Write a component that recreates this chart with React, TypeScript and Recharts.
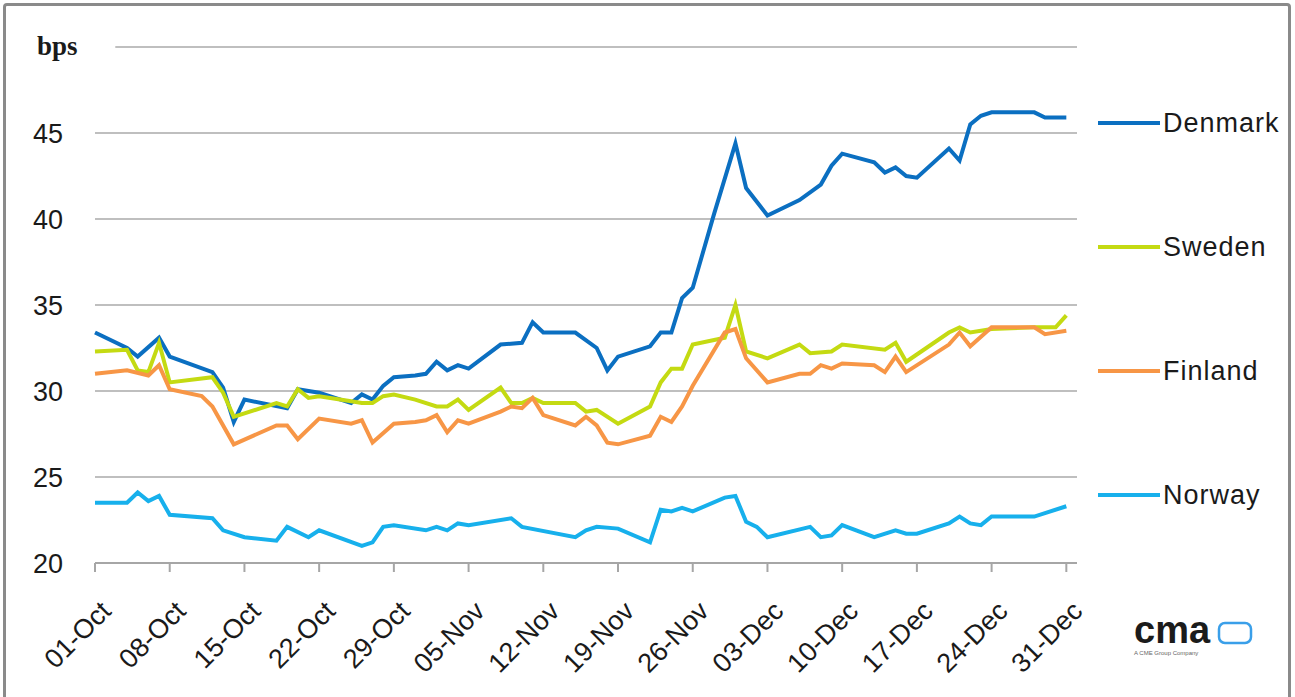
import React from 'react';
import { LineChart, Line, XAxis, YAxis, CartesianGrid, ReferenceLine } from 'recharts';

// day index counted from 01-Oct, value in bps
const DENMARK: [number, number][] = [
  [0, 33.4], [3, 32.5], [4, 32.0], [6, 33.1], [7, 32.0], [11, 31.1], [12, 30.2], [13, 28.2],
  [14, 29.5], [18, 29.0], [19, 30.1], [21, 29.9], [24, 29.3], [25, 29.8], [26, 29.5], [27, 30.3],
  [28, 30.8], [30, 30.9], [31, 31.0], [32, 31.7], [33, 31.2], [34, 31.5], [35, 31.3], [38, 32.7],
  [40, 32.8], [41, 34.0], [42, 33.4], [45, 33.4], [47, 32.5], [48, 31.2], [49, 32.0], [52, 32.6],
  [53, 33.4], [54, 33.4], [55, 35.4], [56, 36.0], [58, 40.3], [60, 44.4], [61, 41.8], [63, 40.2],
  [66, 41.1], [68, 42.0], [69, 43.1], [70, 43.8], [73, 43.3], [74, 42.7], [75, 43.0], [76, 42.5],
  [77, 42.4], [80, 44.1], [81, 43.4], [82, 45.5], [83, 46.0], [84, 46.2], [88, 46.2], [89, 45.9],
  [91, 45.9],
];

const SWEDEN: [number, number][] = [
  [0, 32.3], [3, 32.4], [4, 31.2], [5, 31.1], [6, 32.8], [7, 30.5], [11, 30.8], [12, 29.9],
  [13, 28.5], [17, 29.3], [18, 29.1], [19, 30.1], [20, 29.6], [21, 29.7], [24, 29.4], [25, 29.3],
  [26, 29.3], [27, 29.7], [28, 29.8], [30, 29.5], [32, 29.1], [33, 29.1], [34, 29.5], [35, 28.9],
  [38, 30.2], [39, 29.3], [40, 29.3], [41, 29.6], [42, 29.3], [45, 29.3], [46, 28.8], [47, 28.9],
  [49, 28.1], [52, 29.1], [53, 30.5], [54, 31.3], [55, 31.3], [56, 32.7], [59, 33.1], [60, 35.0],
  [61, 32.3], [63, 31.9], [66, 32.7], [67, 32.2], [69, 32.3], [70, 32.7], [74, 32.4], [75, 32.8],
  [76, 31.7], [80, 33.4], [81, 33.7], [82, 33.4], [84, 33.6], [88, 33.7], [90, 33.7], [91, 34.4],
];

const FINLAND: [number, number][] = [
  [0, 31.0], [3, 31.2], [5, 30.9], [6, 31.5], [7, 30.1], [10, 29.7], [11, 29.1], [13, 26.9],
  [17, 28.0], [18, 28.0], [19, 27.2], [21, 28.4], [24, 28.1], [25, 28.3], [26, 27.0], [28, 28.1],
  [30, 28.2], [31, 28.3], [32, 28.6], [33, 27.6], [34, 28.3], [35, 28.1], [38, 28.8], [39, 29.1],
  [40, 29.0], [41, 29.6], [42, 28.6], [45, 28.0], [46, 28.5], [47, 28.0], [48, 27.0], [49, 26.9],
  [52, 27.4], [53, 28.5], [54, 28.2], [55, 29.1], [56, 30.3], [59, 33.4], [60, 33.6], [61, 31.9],
  [63, 30.5], [66, 31.0], [67, 31.0], [68, 31.5], [69, 31.3], [70, 31.6], [73, 31.5], [74, 31.1],
  [75, 32.0], [76, 31.1], [80, 32.7], [81, 33.4], [82, 32.6], [84, 33.7], [88, 33.7], [89, 33.3],
  [91, 33.5],
];

const NORWAY: [number, number][] = [
  [0, 23.5], [3, 23.5], [4, 24.1], [5, 23.6], [6, 23.9], [7, 22.8], [11, 22.6], [12, 21.9],
  [14, 21.5], [17, 21.3], [18, 22.1], [20, 21.5], [21, 21.9], [25, 21.0], [26, 21.2], [27, 22.1],
  [28, 22.2], [31, 21.9], [32, 22.1], [33, 21.9], [34, 22.3], [35, 22.2], [39, 22.6], [40, 22.1],
  [45, 21.5], [46, 21.9], [47, 22.1], [49, 22.0], [52, 21.2], [53, 23.1], [54, 23.0], [55, 23.2],
  [56, 23.0], [59, 23.8], [60, 23.9], [61, 22.4], [62, 22.1], [63, 21.5], [67, 22.1], [68, 21.5],
  [69, 21.6], [70, 22.2], [73, 21.5], [75, 21.9], [76, 21.7], [77, 21.7], [80, 22.3], [81, 22.7],
  [82, 22.3], [83, 22.2], [84, 22.7], [88, 22.7], [89, 22.9], [91, 23.3],
];

const X_TICKS = [0, 7, 14, 21, 28, 35, 42, 49, 56, 63, 70, 77, 84, 91];
const X_LABELS = [
  '01-Oct', '08-Oct', '15-Oct', '22-Oct', '29-Oct', '05-Nov', '12-Nov',
  '19-Nov', '26-Nov', '03-Dec', '10-Dec', '17-Dec', '24-Dec', '31-Dec',
];
const Y_TICKS = [20, 25, 30, 35, 40, 45, 50];

const SERIES = [
  { name: 'Denmark', color: '#0b6fc1', values: DENMARK },
  { name: 'Sweden', color: '#c4da12', values: SWEDEN },
  { name: 'Finland', color: '#f79646', values: FINLAND },
  { name: 'Norway', color: '#17b0ec', values: NORWAY },
];

const FONT = "'Liberation Sans', Arial, sans-serif";
const TEXT = '#1a1a1a';

const toPoints = (pairs: [number, number][]) => pairs.map(([day, value]) => ({ day, value }));

const XTick = (props: any) => {
  const { x, y, payload } = props;
  const label = X_LABELS[X_TICKS.indexOf(payload.value)];
  const ax = x + 11;
  const ay = y + 30;
  return (
    <text
      x={ax}
      y={ay}
      dy="0.35em"
      textAnchor="end"
      transform={`rotate(-45, ${ax}, ${ay})`}
      fontFamily={FONT}
      fontSize={27}
      fill={TEXT}
    >
      {label}
    </text>
  );
};

const YTick = (props: any) => {
  const { x, y, payload } = props;
  if (payload.value === 50) {
    return (
      <text x={37} y={y} dy="0.3em" fontFamily="'Liberation Serif', 'Times New Roman', serif" fontWeight="bold" fontSize={27} fill={TEXT}>
        bps
      </text>
    );
  }
  return (
    <text x={x} y={y} dy="0.36em" textAnchor="end" fontFamily={FONT} fontSize={27} fill={TEXT}>
      {payload.value}
    </text>
  );
};

const CmaLogo = () => (
  <svg width={150} height={60} style={{ position: 'absolute', left: 1128, top: 610 }}>
    <text x={6} y={33} fontFamily={FONT} fontWeight="bold" fontSize={38} fill="#1b1b1b">
      cma
    </text>
    <rect x={91} y={13} width={32} height={20} rx={6} fill="none" stroke="#3a9fe9" strokeWidth={2.5} />
    <text x={6} y={45} fontFamily={FONT} fontSize={6} fill="#666">
      A CME Group Company
    </text>
  </svg>
);

export default function App() {
  return (
    <div style={{ position: 'absolute', left: 0, top: 0, width: 1295, height: 697, background: '#fff', overflow: 'hidden' }}>
      <div
        style={{
          position: 'absolute',
          left: 3,
          top: 3,
          width: 1288,
          height: 730,
          border: '3px solid #8a8a8a',
          borderRadius: 4,
          boxSizing: 'border-box',
        }}
      />
      <div style={{ position: 'absolute', left: 0, top: 0 }}>
        <LineChart width={1295} height={697} margin={{ top: 47, right: 218, bottom: 0, left: 0 }}>
          <CartesianGrid vertical={false} horizontalValues={[25, 30, 35, 40, 45]} stroke="#bfbfbf" strokeWidth={2} />
          <ReferenceLine
            segment={[{ x: 1.9, y: 50 }, { x: 92, y: 50 }]}
            stroke="#bfbfbf"
            strokeWidth={2}
            ifOverflow="visible"
          />
          <XAxis
            dataKey="day"
            type="number"
            domain={[0, 92]}
            ticks={X_TICKS}
            interval={0}
            height={134}
            allowDuplicatedCategory={false}
            axisLine={{ stroke: '#a6a6a6', strokeWidth: 2 }}
            tickLine={{ stroke: '#a6a6a6', strokeWidth: 2 }}
            tickSize={9}
            tickMargin={4}
            tick={<XTick />}
          />
          <YAxis
            type="number"
            domain={[20, 50]}
            ticks={Y_TICKS}
            width={95}
            axisLine={false}
            tickLine={false}
            tickSize={0}
            tickMargin={32}
            tick={<YTick />}
          />
          {SERIES.map((s) => (
            <Line
              key={s.name}
              data={toPoints(s.values)}
              dataKey="value"
              name={s.name}
              type="linear"
              stroke={s.color}
              strokeWidth={4}
              dot={false}
              activeDot={false}
              isAnimationActive={false}
            />
          ))}
        </LineChart>
      </div>
      {SERIES.map((s, i) => (
        <div
          key={s.name}
          style={{
            position: 'absolute',
            left: 1098,
            top: 123 + i * 124 - 16,
            height: 32,
            display: 'flex',
            alignItems: 'center',
          }}
        >
          <div style={{ width: 62, height: 4, background: s.color }} />
          <span style={{ fontFamily: FONT, fontSize: 27, color: TEXT, marginLeft: 3, letterSpacing: 1 }}>{s.name}</span>
        </div>
      ))}
      <CmaLogo />
    </div>
  );
}
